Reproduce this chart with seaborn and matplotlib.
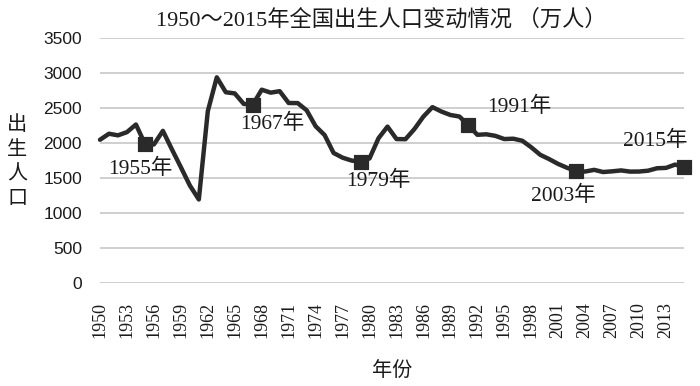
import pandas as pd
import matplotlib.pyplot as plt
import seaborn as sns

# births per year, 10k persons
years = list(range(1950, 2016))
births = [2042, 2128, 2105, 2151, 2260, 1984, 1975, 2169, 1906, 1650,
          1389, 1189, 2451, 2934, 2721, 2704, 2554, 2543, 2757, 2715,
          2736, 2567, 2566, 2463, 2235, 2109, 1853, 1786, 1745, 1727,
          1776, 2064, 2230, 2052, 2050, 2196, 2374, 2508, 2445, 2396,
          2374, 2250, 2113, 2120, 2098, 2052, 2057, 2028, 1934, 1827,
          1765, 1696, 1641, 1594, 1588, 1612, 1581, 1591, 1604, 1587,
          1588, 1600, 1635, 1640, 1687, 1655]
marked_years = [1955, 1967, 1979, 1991, 2003, 2015]
tick_years = list(range(1950, 2014, 3))
y_ticks = [0, 500, 1000, 1500, 2000, 2500, 3000, 3500]

title = "1950～2015年全国出生人口变动情况 （万人）"
x_label = "年份"
y_label = "出\n生\n人\n口"

df = pd.DataFrame({"year": years, "births": births})
marks = df[df["year"].isin(marked_years)]

sns.set_style("white")
serif_cjk = ["Liberation Serif", "Noto Sans CJK SC"]
line_color = "#2a2a2a"
text_color = "#1a1a1a"

fig = plt.figure(figsize=(7, 3.86), dpi=100)
ax = fig.add_axes([100 / 700, 1 - 282.7 / 386, 584 / 700, 245 / 386])

sns.lineplot(data=df, x="year", y="births", ax=ax, color=line_color,
             linewidth=3.2, clip_on=False)
sns.scatterplot(data=marks, x="year", y="births", ax=ax, marker="s", s=115,
                color=line_color, edgecolor=line_color, clip_on=False, zorder=5)

# label offsets (points) for each marked year
offsets = {1955: (-3, -18), 1967: (14, -14), 1979: (13, -14),
           1991: (37, 13), 2003: (-9, -18), 2015: (-21, 19)}
for _, row in marks.iterrows():
    yr = int(row["year"])
    ax.annotate(f"{yr}年", xy=(yr, row["births"]), xytext=offsets[yr],
                textcoords="offset points", ha="center", va="center",
                fontsize=15.5, family=serif_cjk, color=text_color)

ax.set_xlim(1950, 2015)
ax.set_ylim(0, 3500)
ax.set_yticks(y_ticks)
ax.set_xticks(tick_years)
ax.set_xticklabels([str(y) for y in tick_years], rotation=90,
                   family="Liberation Serif", fontsize=13, color=text_color)
ax.set_yticklabels([str(v) for v in y_ticks], family="Liberation Sans",
                   fontsize=12.5, color=text_color)
ax.tick_params(axis="both", length=0)
ax.tick_params(axis="y", pad=13)
ax.tick_params(axis="x", pad=14)

ax.yaxis.grid(True, color="#cfcfcf", linewidth=1.4)
ax.xaxis.grid(False)
sns.despine(ax=ax, left=True, bottom=True)

ax.set_xlabel(x_label, family=serif_cjk, fontsize=14.5, labelpad=17, color=text_color)
ax.set_ylabel(y_label, family=serif_cjk, fontsize=14.5, rotation=0,
              va="center", ha="center", linespacing=1.4, color=text_color)
ax.yaxis.set_label_coords(-0.142, 0.49)

fig.text(381 / 700, 1 - 20 / 386, title, family=serif_cjk, fontsize=16,
         ha="center", va="center", color=text_color)

fig.savefig("out.png", dpi=100)
